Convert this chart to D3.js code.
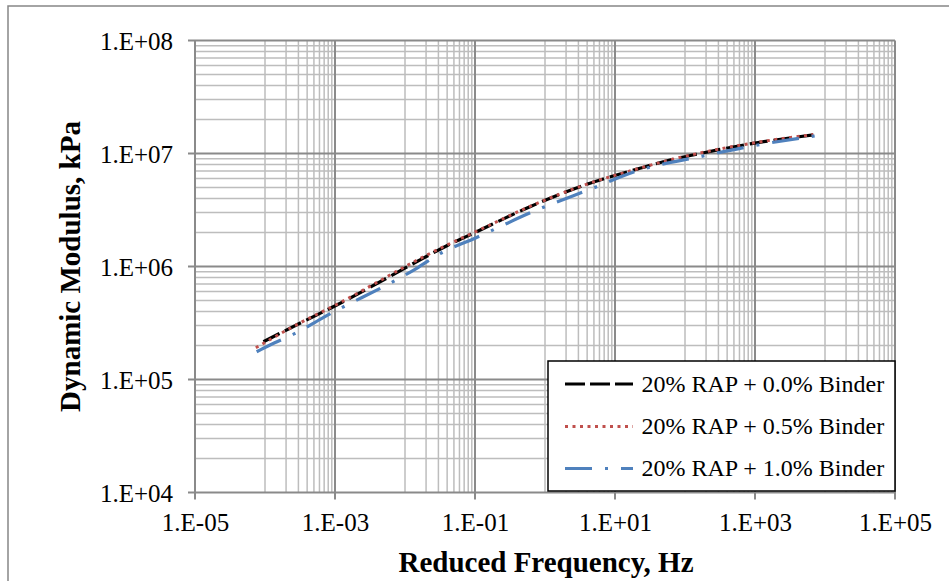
<!DOCTYPE html>
<html>
<head>
<meta charset="utf-8">
<script src="https://cdn.jsdelivr.net/npm/d3@7"></script>
<style>
  html, body { margin: 0; padding: 0; background: #fff; }
  svg { display: block; }
</style>
</head>
<body>
<svg id="chart" width="949" height="581"></svg>
<script>
// ---- data ----
const seriesNames = ["20% RAP + 0.0% Binder", "20% RAP + 0.5% Binder", "20% RAP + 1.0% Binder"];

const freq00 = [9.5e-5, 3.2e-4, 1.06e-3, 1.8e-2, 3.9e-2, 9.5e-2, 0.61, 3.16, 22.7, 61, 164, 946, 6800];
const mod00  = [2.16e5, 3.16e5, 4.56e5, 1.18e6, 1.52e6, 1.97e6, 3.38e6, 5.08e6, 7.40e6, 8.75e6, 1.00e7, 1.23e7, 1.46e7];

const freq05 = [7.4e-5, 3.2e-4, 1.06e-3, 1.8e-2, 3.9e-2, 9.5e-2, 0.61, 3.16, 22.7, 61, 164, 946, 6800];
const mod05  = [1.91e5, 3.18e5, 4.62e5, 1.21e6, 1.54e6, 1.99e6, 3.40e6, 5.10e6, 7.42e6, 8.78e6, 1.01e7, 1.24e7, 1.47e7];

const freq10 = [7.6e-5, 1.18e-4, 2.7e-4, 6.5e-4, 1.55e-2, 3.16e-2, 0.10, 0.76, 4.4, 22.7, 164, 946, 7200];
const mod10  = [1.76e5, 2.02e5, 2.56e5, 3.48e5, 9.84e5, 1.30e6, 1.78e6, 3.16e6, 4.82e6, 7.14e6, 9.38e6, 1.17e7, 1.43e7];

const xTickLabels = ["1.E-05", "1.E-03", "1.E-01", "1.E+01", "1.E+03", "1.E+05"];
const yTickLabels = ["1.E+04", "1.E+05", "1.E+06", "1.E+07", "1.E+08"];

const xLabel = "Reduced Frequency, Hz";
const yLabel = "Dynamic Modulus, kPa";

// ---- layout ----
const svg = d3.select("#chart");
const L = 195, R = 895, T = 40.5, B = 492.5;
const font = "'Liberation Serif', 'Times New Roman', serif";

const x = d3.scaleLog().domain([1e-5, 1e5]).range([L, R]);
const y = d3.scaleLog().domain([1e4, 1e8]).range([B, T]);

// outer chart border
svg.append("rect").attr("x", 8).attr("y", 6).attr("width", 960).attr("height", 600)
  .attr("fill", "none").attr("stroke", "#868686").attr("stroke-width", 1.5);

const xMajor = xTickLabels.map(s => +s);
const yMajor = yTickLabels.map(s => +s);

// minor grid values
const xMinor = [];
for (let i = 0; i < xMajor.length - 1; i++) {
  const step = xMajor[i + 1] / 10;
  for (let j = 1; j <= 9; j++) xMinor.push(step * j);
}
const yMinor = [];
for (let i = 0; i < yMajor.length - 1; i++) {
  for (let j = 2; j <= 9; j++) yMinor.push(yMajor[i] * j);
}

const grid = svg.append("g");
grid.selectAll(".xm").data(xMinor).join("line")
  .attr("x1", d => x(d)).attr("x2", d => x(d)).attr("y1", T).attr("y2", B)
  .attr("stroke", "#bdbdbd").attr("stroke-width", 1.5);
grid.selectAll(".ym").data(yMinor).join("line")
  .attr("y1", d => y(d)).attr("y2", d => y(d)).attr("x1", L).attr("x2", R)
  .attr("stroke", "#bdbdbd").attr("stroke-width", 1.5);
grid.selectAll(".xM").data(xMajor).join("line")
  .attr("x1", d => x(d)).attr("x2", d => x(d)).attr("y1", T).attr("y2", B + 7)
  .attr("stroke", "#8a8a8a").attr("stroke-width", 2);
grid.selectAll(".yM").data(yMajor).join("line")
  .attr("y1", d => y(d)).attr("y2", d => y(d)).attr("x1", L - 7).attr("x2", R)
  .attr("stroke", "#8a8a8a").attr("stroke-width", 2);

// axes labels
const xAxis = d3.axisBottom(x).tickValues(xMajor).tickFormat((d, i) => xTickLabels[i]).tickSize(0).tickPadding(0);
const gx = svg.append("g").attr("transform", `translate(0,${B})`).call(xAxis);
gx.select(".domain").remove();
gx.selectAll("text").attr("font-family", font).attr("font-size", 25).attr("fill", "#000")
  .attr("dy", null).attr("y", 38);

const yAxis = d3.axisLeft(y).tickValues(yMajor).tickFormat((d, i) => yTickLabels[i]).tickSize(0).tickPadding(0);
const gy = svg.append("g").attr("transform", `translate(${L},0)`).call(yAxis);
gy.select(".domain").remove();
gy.selectAll("text").attr("font-family", font).attr("font-size", 25).attr("fill", "#000")
  .attr("x", -22).attr("dy", "0.34em");

// axis titles
svg.append("text").attr("x", 546).attr("y", 571.5).attr("text-anchor", "middle")
  .attr("font-family", font).attr("font-weight", "bold").attr("font-size", 29).text(xLabel);
svg.append("text").attr("transform", "translate(80,266.5) rotate(-90)").attr("text-anchor", "middle")
  .attr("font-family", font).attr("font-weight", "bold").attr("font-size", 29).text(yLabel);

// series
const styles = [
  { color: "#000000", width: 3.2, dash: "18,6", cap: "butt" },
  { color: "#c0504d", width: 3, dash: "3,4.5", cap: "butt" },
  { color: "#4f81bd", width: 3.2, dash: "27,13,3,13", cap: "butt" }
];
const series = [
  freq00.map((f, i) => [f, mod00[i]]),
  freq05.map((f, i) => [f, mod05[i]]),
  freq10.map((f, i) => [f, mod10[i]])
];
const line = d3.line().x(d => x(d[0])).y(d => y(d[1])).curve(d3.curveMonotoneX);
const gs = svg.append("g");
series.forEach((s, i) => {
  gs.append("path").attr("d", line(s)).attr("fill", "none")
    .attr("stroke", styles[i].color).attr("stroke-width", styles[i].width)
    .attr("stroke-dasharray", styles[i].dash).attr("stroke-linecap", styles[i].cap);
});

// legend
const lg = svg.append("g");
lg.append("rect").attr("x", 548).attr("y", 361).attr("width", 347).attr("height", 130)
  .attr("fill", "#fff").attr("stroke", "#000").attr("stroke-width", 1.5);
const rowY = [384, 426.5, 468.5];
seriesNames.forEach((n, i) => {
  lg.append("line").attr("x1", 565).attr("x2", 633).attr("y1", rowY[i]).attr("y2", rowY[i])
    .attr("stroke", styles[i].color).attr("stroke-width", styles[i].width)
    .attr("stroke-dasharray", i === 0 ? "20,5" : styles[i].dash);
  lg.append("text").attr("x", 641.5).attr("y", rowY[i] + 7.5)
    .attr("font-family", font).attr("font-size", 24).attr("fill", "#000").text(n);
});
</script>
</body>
</html>
